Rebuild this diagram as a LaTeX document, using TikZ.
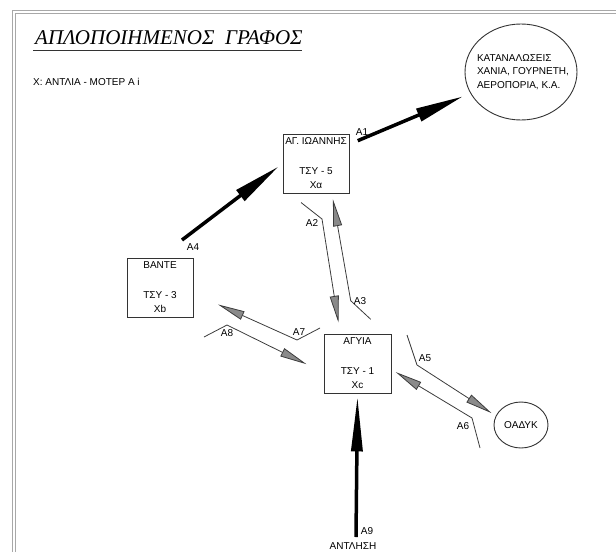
\documentclass[tikz,border=0pt]{standalone}
\usepackage{fontspec}
\setmainfont{Liberation Sans}
\newfontfamily\titlefont{Liberation Serif}
\usetikzlibrary{arrows.meta,positioning,shapes.geometric,calc}
\definecolor{framec}{HTML}{A8A8A8}
\definecolor{linec}{HTML}{3C3C3C}
\definecolor{headc}{HTML}{8A8A8A}

\begin{document}
\begin{tikzpicture}[x=1pt,y=-1pt,
  stationc/.style={draw=black!80, line width=0.9pt, minimum width=66pt, minimum height=59pt,
    inner sep=0pt, align=center, font=\fontsize{10}{14}\selectfont},
  sinkc/.style={ellipse, draw=black!80, line width=0.9pt, inner sep=0pt},
  tagc/.style={font=\fontsize{10}{12}\selectfont, inner sep=0pt},
  mainflow/.style={line width=3.5pt, -{Triangle[length=48pt,width=13pt]}},
  sideflow/.style={draw=linec, line width=0.8pt, -{Triangle[length=27pt,width=9pt,fill=headc]}}]
  \useasboundingbox (0,0) rectangle (616,552);
  % sheet frame
  \draw[framec, line width=0.8pt] (12,552) -- (12,10) -- (616,10);
  \draw[framec, line width=0.8pt] (15,552) -- (15,13) -- (616,13);
  % heading
  \node[anchor=base west, inner sep=0pt, font=\titlefont\itshape\fontsize{21}{24}\selectfont] (title) at (35,44)
    {ΑΠΛΟΠΟΙΗΜΕΝΟΣ\ \ ΓΡΑΦΟΣ};
  \draw[line width=0.6pt, black!80] (33,50) -- (302,50);
  \node[tagc, anchor=west] (legend) at (33,82) {X: ΑΝΤΛΙΑ - ΜΟΤΕΡ Α i};
  % stations
  \node[stationc] (agi) at (316,163.5) {ΑΓ. ΙΩΑΝΝΗΣ\\[16pt]ΤΣΥ - 5\\Xα};
  \node[stationc] (vante) at (160,287.5) {ΒΑΝΤΕ\\[16pt]ΤΣΥ - 3\\Xb};
  \node[stationc, minimum width=67pt] (agyia) at (357.5,363.5) {ΑΓΥΙΑ\\[16pt]ΤΣΥ - 1\\Xc};
  \node[sinkc, minimum width=54pt, minimum height=46pt, font=\fontsize{10}{12}\selectfont] (oadyk) at (521,425) {ΟΑΔΥΚ};
  \node[sinkc, minimum width=112pt, minimum height=96pt] (katan) at (521,72) {};
  \node[tagc, align=left, font=\fontsize{10}{13.5}\selectfont] (katantxt) at (523,72)
    {ΚΑΤΑΝΑΛΩΣΕΙΣ\\ΧΑΝΙΑ, ΓΟΥΡΝΕΤΗ,\\ΑΕΡΟΠΟΡΙΑ, Κ.Α.};
  \node[tagc] (antlisi) at (353,546) {ΑΝΤΛΗΣΗ};
  % free ends and bends
  \coordinate (a4s) at (182,240);
  \coordinate (a9s) at (356,537);
  \coordinate (a2s) at (301,202.5);
  \coordinate (a2k) at (322,219);
  \coordinate (a3s) at (370.7,319.3);
  \coordinate (a3k) at (350.7,300.7);
  \coordinate (a5s) at (407,335);
  \coordinate (a5k) at (417,365);
  \coordinate (a6s) at (480,448);
  \coordinate (a6k) at (472,418);
  \coordinate (a7s) at (320,328);
  \coordinate (a7k) at (297,340);
  \coordinate (a8s) at (204,337);
  \coordinate (a8k) at (227,325);
  % main flows
  \draw[mainflow, shorten <=9pt, shorten >=8pt] (agi.30) -- (katan);
  \draw[mainflow, shorten >=5pt] (a4s) -- (agi.west);
  \draw[mainflow, -{Triangle[length=55pt,width=11pt]}, shorten >=3pt] (a9s) -- (agyia.south);
  % exchanges
  \draw[sideflow, shorten >=11pt] (a2s) -- (a2k) -- (agyia.120);
  \draw[sideflow, shorten >=6pt] (a3s) -- (a3k) -- (agi.-62);
  \draw[sideflow, shorten >=5pt] (a5s) -- (a5k) -- (oadyk.160);
  \draw[sideflow, shorten >=5pt] (a6s) -- (a6k) -- (agyia.-10);
  \draw[sideflow, shorten >=27pt] (a7s) -- (a7k) -- (vante.-10);
  \draw[sideflow, shorten >=19pt] (a8s) -- (a8k) -- (agyia.-165);
  % flow tags
  \node[tagc] (l1) at (362,132) {A1};
  \node[tagc] (l2) at (312,223) {A2};
  \node[tagc] (l3) at (360,301) {A3};
  \node[tagc] (l4) at (193,247) {A4};
  \node[tagc] (l5) at (425,358) {A5};
  \node[tagc] (l6) at (463,426) {A6};
  \node[tagc] (l7) at (299,332) {A7};
  \node[tagc] (l8) at (227,333) {A8};
  \node[tagc] (l9) at (367,531) {A9};
\end{tikzpicture}
\end{document}
